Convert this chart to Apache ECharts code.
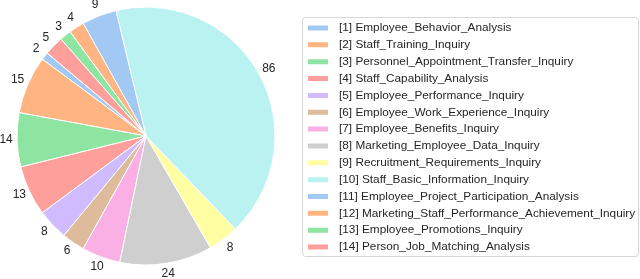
<!DOCTYPE html>
<html><head><meta charset="utf-8">
<script src="https://cdn.jsdelivr.net/npm/echarts@6/dist/echarts.min.js"></script>
<style>html,body{margin:0;padding:0;background:#fff}#c{width:640px;height:279px}</style>
</head><body><div id="c"></div>
<script>
const categories = [
  "[1] Employee_Behavior_Analysis",
  "[2] Staff_Training_Inquiry",
  "[3] Personnel_Appointment_Transfer_Inquiry",
  "[4] Staff_Capability_Analysis",
  "[5] Employee_Performance_Inquiry",
  "[6] Employee_Work_Experience_Inquiry",
  "[7] Employee_Benefits_Inquiry",
  "[8] Marketing_Employee_Data_Inquiry",
  "[9] Recruitment_Requirements_Inquiry",
  "[10] Staff_Basic_Information_Inquiry",
  "[11] Employee_Project_Participation_Analysis",
  "[12] Marketing_Staff_Performance_Achievement_Inquiry",
  "[13] Employee_Promotions_Inquiry",
  "[14] Person_Job_Matching_Analysis"
];
const values = [2, 15, 14, 13, 8, 6, 10, 24, 8, 86, 9, 4, 3, 5];
const colors = ["#a1c9f4","#ffb482","#8de5a1","#ff9f9b","#d0bbff","#debb9b","#fab0e4","#cfcfcf","#fffea3","#b9f2f0","#a1c9f4","#ffb482","#8de5a1","#ff9f9b"];

const FONT = 'Liberation Sans, Arial, sans-serif';
const chart = echarts.init(document.getElementById('c'), null, {renderer: 'canvas'});
const R = 129, LR = 137;
const pieData = categories.map((n, i) => ({name: n, value: values[i]}));
chart.setOption({
  animation: false,
  textStyle: {fontFamily: FONT},
  graphic: [{
    type: 'rect', left: 302, top: 17, z: -1,
    shape: {width: 336, height: 239, r: 3},
    style: {fill: '#fff', stroke: '#d6d6d6', lineWidth: 1}
  }],
  legend: {
    orient: 'vertical', left: 306, top: 21.5, padding: 0,
    itemWidth: 22, itemHeight: 7, itemGap: 3.85,
    icon: 'rect',
    selectedMode: false,
    textStyle: {fontSize: 11.8, color: '#262626', lineHeight: 13, padding: [0,0,0,5], fontFamily: FONT},
    data: categories
  },
  series: [{
    type: 'pie',
    center: [146, 136],
    radius: [0, R],
    startAngle: 140,
    clockwise: false,
    avoidLabelOverlap: false,
    color: colors,
    itemStyle: {borderColor: '#fff', borderWidth: 1},
    label: {show: false},
    labelLine: {show: false},
    emphasis: {disabled: true},
    data: pieData
  }, {
    type: 'pie',
    center: [146, 136],
    radius: [LR - 0.5, LR + 0.5],
    startAngle: 140,
    clockwise: false,
    avoidLabelOverlap: false,
    silent: true,
    itemStyle: {color: 'rgba(0,0,0,0)', borderWidth: 0},
    label: {show: true, position: 'inside', formatter: '{c}', fontSize: 12, color: '#262626', fontFamily: FONT, rotate: 0, offset: [0, -0.5]},
    labelLine: {show: false},
    emphasis: {disabled: true},
    data: pieData
  }]
});
</script></body></html>
